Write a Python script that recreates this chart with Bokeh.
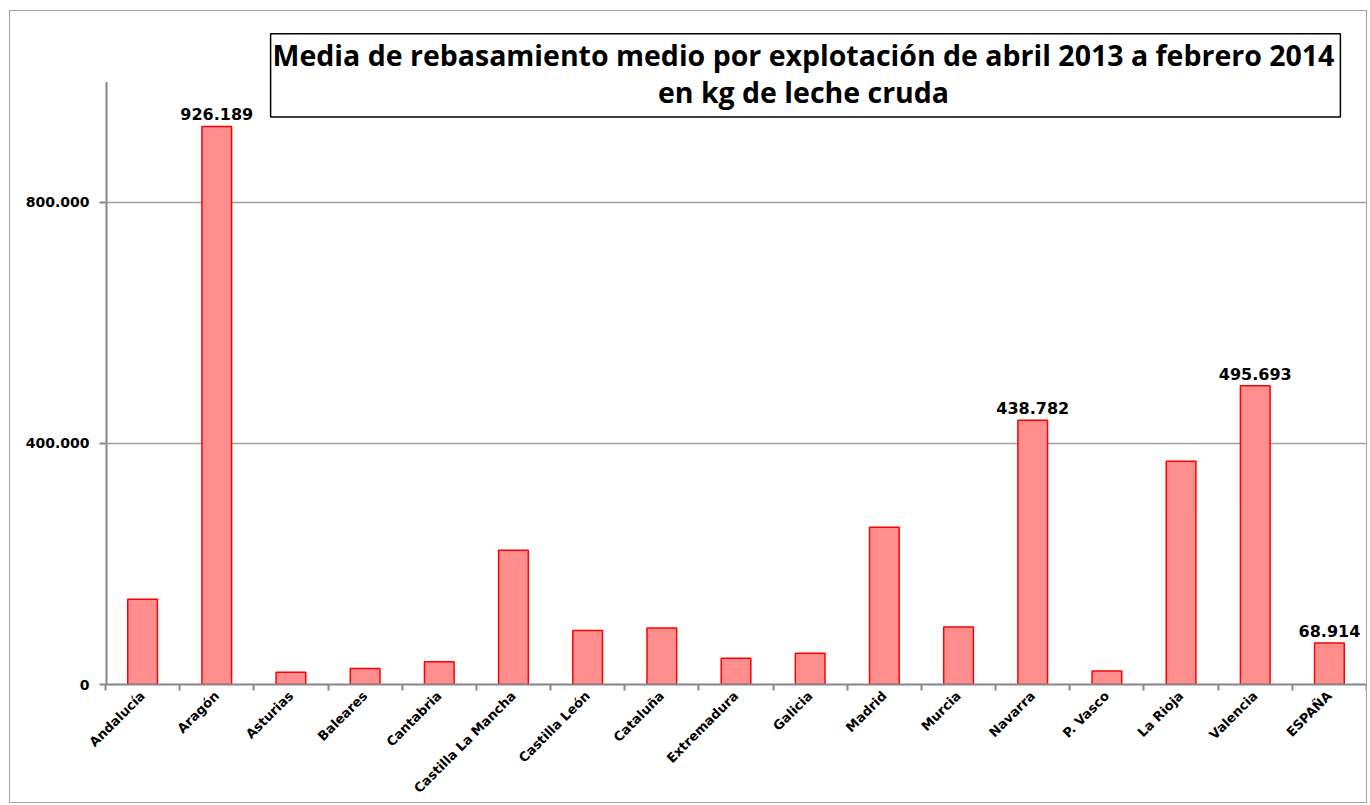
from bokeh.plotting import figure
from bokeh.models import ColumnDataSource, FixedTicker, Range1d, Label, LabelSet
from bokeh.core.properties import value
from bokeh.embed import file_html
from bokeh.resources import INLINE

categories = ["Andalucía", "Aragón", "Asturias", "Baleares", "Cantabria",
              "Castilla La Mancha", "Castilla León", "Cataluña", "Extremadura",
              "Galicia", "Madrid", "Murcia", "Navarra", "P. Vasco", "La Rioja",
              "Valencia", "ESPAÑA"]
values = [141300, 926189, 20400, 26600, 37600, 222800, 89800, 93600, 43700,
          52000, 261000, 95300, 438782, 22600, 370700, 495693, 68914]
labelled = ["Aragón", "Navarra", "Valencia", "ESPAÑA"]
y_ticks = [0, 400000, 800000]
y_tick_labels = ["0", "400.000", "800.000"]
y_axis_top = 1000000
y_range_top = 1100400
title_text = ("Media de rebasamiento medio por explotación de abril 2013 a febrero 2014\n"
              "en kg de leche cruda")

n = len(categories)
xs = [i + 0.5 for i in range(n)]
src = ColumnDataSource(dict(x=xs, v=values, cat=categories))
lab_x = [xs[categories.index(c)] for c in labelled]
lab_v = [values[categories.index(c)] for c in labelled]
lab_t = ["{:,}".format(v).replace(",", ".") for v in lab_v]
lab_src = ColumnDataSource(dict(x=lab_x, v=lab_v, t=lab_t))

p = figure(width=1358, height=793, output_backend="svg", toolbar_location=None,
           x_range=Range1d(0, n), y_range=Range1d(0, y_range_top),
           min_border_left=95, min_border_right=2, min_border_top=10,
           min_border_bottom=120)
p.styles = {"border": "1px solid #a6a6a6", "margin-left": "9px", "margin-top": "10px"}
p.outline_line_color = None
p.background_fill_color = "white"

p.vbar(x="x", top="v", width=0.4, source=src, fill_color="#FF8F8F",
       line_color="#FF0000", line_width=1.5)

# vertical axis line drawn only up to the original axis top
p.segment(x0=[0], y0=[0], x1=[0], y1=[y_axis_top], line_color="#868686", line_width=4)

p.add_layout(LabelSet(x="x", y="v", text="t", source=lab_src, text_align="center",
                      text_baseline="bottom", y_offset=6, text_font=value("DejaVu Sans"),
                      text_font_style="bold", text_font_size="16px", text_color="black"))

# y axis
p.yaxis.ticker = FixedTicker(ticks=y_ticks)
p.yaxis.major_label_overrides = {t: l for t, l in zip(y_ticks, y_tick_labels)}
p.yaxis.minor_tick_line_color = None
p.yaxis.major_tick_in = 0
p.yaxis.major_tick_out = 6
p.yaxis.axis_line_color = None
p.yaxis.major_tick_line_color = "#868686"
p.yaxis.major_tick_line_width = 2
p.yaxis.major_label_text_font = "DejaVu Sans"
p.yaxis.major_label_text_font_style = "bold"
p.yaxis.major_label_text_font_size = "14px"
p.yaxis.major_label_text_color = "black"
p.yaxis.major_label_standoff = 10

# x axis: labels at centres, ticks at boundaries
p.xaxis.ticker = FixedTicker(ticks=xs, minor_ticks=list(range(n + 1)))
p.xaxis.major_label_overrides = {x: c for x, c in zip(xs, categories)}
p.xaxis.major_tick_line_color = None
p.xaxis.minor_tick_in = 0
p.xaxis.minor_tick_out = 6
p.xaxis.minor_tick_line_color = "#868686"
p.xaxis.minor_tick_line_width = 2
p.xaxis.axis_line_color = "#868686"
p.xaxis.axis_line_width = 2
p.xaxis.major_label_orientation = 0.785398
p.xaxis.major_label_text_font = "DejaVu Sans"
p.xaxis.major_label_text_font_style = "bold"
p.xaxis.major_label_text_font_size = "13px"
p.xaxis.major_label_text_color = "black"
p.xaxis.major_label_standoff = 3

p.xgrid.grid_line_color = None
p.ygrid.ticker = FixedTicker(ticks=[t for t in y_ticks if t > 0])
p.ygrid.grid_line_color = "#a0a0a0"
p.ygrid.grid_line_width = 1.5

title = Label(x=9.437, y=1010800, text=title_text, text_align="center",
              text_baseline="middle", text_font="Open Sans", text_font_style="bold",
              text_font_size="28.5px", text_line_height=0.98, text_color="black",
              border_line_color="black", border_line_width=1.5,
              background_fill_color="white", padding=(2, 6, 2, 6))
p.add_layout(title)

open("out.html", "w").write(file_html(p, INLINE))
